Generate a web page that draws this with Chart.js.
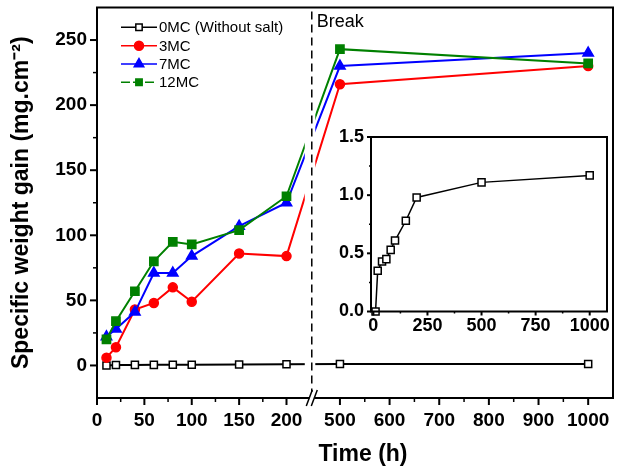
<!DOCTYPE html>
<html>
<head>
<meta charset="utf-8">
<script src="https://cdn.jsdelivr.net/npm/chart.js@4.4.1/dist/chart.umd.min.js"></script>
<style>
  html, body { margin: 0; padding: 0; background: #fff; }
  #wrap { position: relative; width: 625px; height: 471px; }
  #main { position: absolute; left: 0; top: 0; }
  #inset { position: absolute; left: 320px; top: 125px; }
</style>
</head>
<body>
<div id="wrap">
  <canvas id="main" width="625" height="471"></canvas>
  <canvas id="inset" width="300" height="220"></canvas>
</div>
<script>
// exposure time (h) and specific weight gain (mg.cm-2)
var times = [10, 20, 40, 60, 80, 100, 150, 200, 500, 1000];
var mc0 = [0, 0.35, 0.43, 0.45, 0.53, 0.61, 0.78, 0.98, 1.11, 1.17];
var mc3 = [6, 14, 43, 48, 60, 49, 86, 84, 216, 230];
var mc7 = [22, 28, 41, 71, 71, 84, 107, 125, 230, 240];
var mc12 = [20, 34, 57, 80, 95, 93, 104, 130, 243, 232];

var seriesNames = ['0MC (Without salt)', '3MC', '7MC', '12MC'];

var leftTicks = [0, 50, 100, 150, 200];
var leftMinor = [25, 75, 125, 175];
var rightTicks = [500, 600, 700, 800, 900, 1000];
var rightMinor = [550, 650, 750, 850, 950];
var yTicks = [0, 50, 100, 150, 200, 250];
var yMinor = [25, 75, 125, 175, 225];
var insetXTicks = [0, 250, 500, 750, 1000];
var insetXMinor = [125, 375, 625, 875];
var insetYTicks = [0, 0.5, 1.0, 1.5];
var insetYMinor = [0.25, 0.75, 1.25];

// broken time axis: 0-220 h, then 450-1050 h compressed
var LEFT_END = 220, RIGHT_START = 450, RIGHT_END = 1050, GAP = 10.2, K = 0.524;
function toAxis(t) { return t <= LEFT_END ? t : LEFT_END + GAP + (t - RIGHT_START) * K; }
function fromAxis(u) { return u <= LEFT_END ? u : RIGHT_START + (u - LEFT_END - GAP) / K; }

Chart.defaults.font.family = "'Liberation Sans', Arial, sans-serif";
Chart.defaults.color = '#000';

function noPad(s) {
  s.paddingTop = 0; s.paddingBottom = 0; s.paddingLeft = 0; s.paddingRight = 0;
}

function series(label, values, color, style, radius, fill, order) {
  return {
    label: label,
    data: times.map(function(t, i) { return { x: toAxis(t), y: values[i] }; }),
    borderColor: color,
    backgroundColor: fill,
    pointBackgroundColor: fill,
    pointBorderColor: color,
    pointStyle: style,
    pointRadius: radius,
    pointBorderWidth: 1.5,
    borderWidth: 2,
    tension: 0,
    clip: false,
    order: order
  };
}

function marker(ctx, style, x, y, r) {
  ctx.beginPath();
  if (style === 'circle') {
    ctx.arc(x, y, r, 0, Math.PI * 2);
  } else if (style === 'rect') {
    var s = r * Math.SQRT1_2;
    ctx.rect(x - s, y - s, 2 * s, 2 * s);
  } else {
    var a = 0;
    ctx.moveTo(x + Math.sin(a) * r, y - Math.cos(a) * r);
    a += Math.PI * 2 / 3;
    ctx.lineTo(x + Math.sin(a) * r, y - Math.cos(a) * r);
    a += Math.PI * 2 / 3;
    ctx.lineTo(x + Math.sin(a) * r, y - Math.cos(a) * r);
    ctx.closePath();
  }
  ctx.fill();
  ctx.stroke();
}

function tickMarks(ctx, scale, majors, minors, majLen, minLen, horizontal, edge, conv) {
  ctx.strokeStyle = '#000';
  majors.concat(minors).forEach(function(v, i) {
    var major = i < majors.length;
    var p = scale.getPixelForValue(conv ? conv(v) : v);
    var len = major ? majLen : minLen;
    ctx.lineWidth = major ? 2 : 1.5;
    ctx.beginPath();
    if (horizontal) { ctx.moveTo(p, edge); ctx.lineTo(p, edge + len); }
    else { ctx.moveTo(edge, p); ctx.lineTo(edge - len, p); }
    ctx.stroke();
  });
}

var mainDecor = {
  id: 'mainDecor',
  afterDatasetsDraw: function(chart) {
    var ctx = chart.ctx, a = chart.chartArea, x = chart.scales.x;
    var c = x.getPixelForValue(LEFT_END + GAP / 2) + 1.5;
    ctx.save();
    // open the lines where the axis is broken
    ctx.fillStyle = '#fff';
    ctx.fillRect(c - 7, a.top + 2, 10.5, a.bottom - a.top - 4);
    ctx.strokeStyle = '#000';
    ctx.lineWidth = 1.5;
    ctx.setLineDash([8, 5]);
    ctx.beginPath();
    ctx.moveTo(c, a.top + 4);
    ctx.lineTo(c, a.bottom - 6);
    ctx.stroke();
    ctx.setLineDash([]);
    ctx.fillStyle = '#000';
    ctx.font = "18px 'Liberation Sans', Arial, sans-serif";
    ctx.textAlign = 'left';
    ctx.textBaseline = 'alphabetic';
    ctx.fillText('Break', c + 5, 27);
    ctx.restore();
  },
  afterDraw: function(chart) {
    var ctx = chart.ctx, a = chart.chartArea, x = chart.scales.x, y = chart.scales.y;
    var c = x.getPixelForValue(LEFT_END + GAP / 2) + 1.5;
    ctx.save();
    ctx.strokeStyle = '#000';
    ctx.lineWidth = 2;
    ctx.beginPath();
    ctx.moveTo(a.left, a.bottom); ctx.lineTo(a.left, a.top);
    ctx.lineTo(a.right, a.top); ctx.lineTo(a.right, a.bottom);
    ctx.moveTo(a.left - 1, a.bottom); ctx.lineTo(c - 2.5, a.bottom);
    ctx.moveTo(c + 2.5, a.bottom); ctx.lineTo(a.right + 1, a.bottom);
    ctx.stroke();
    ctx.lineWidth = 1.5;
    ctx.beginPath();
    [-2.5, 2.5].forEach(function(d) {
      ctx.moveTo(c + d - 3, a.bottom + 8);
      ctx.lineTo(c + d + 3, a.bottom - 8);
    });
    ctx.stroke();
    tickMarks(ctx, x, leftTicks.concat(rightTicks), leftMinor.concat(rightMinor), 7, 4, true, a.bottom, toAxis);
    tickMarks(ctx, y, yTicks, yMinor, 7, 4, false, a.left);

    // x axis title, set a little right of centre as in the source figure
    ctx.fillStyle = '#000';
    ctx.font = "bold 23px 'Liberation Sans', Arial, sans-serif";
    ctx.textAlign = 'center';
    ctx.textBaseline = 'middle';
    ctx.fillText('Time (h)', 363, 455);

    // legend: line + marker + label
    var ds = chart.data.datasets;
    var rows = [27.3, 45.7, 64, 82.3];
    ctx.font = "15px 'Liberation Sans', Arial, sans-serif";
    ctx.textAlign = 'left';
    for (var i = 0; i < ds.length; i++) {
      var d = ds[i], ry = rows[i];
      ctx.strokeStyle = d.borderColor;
      ctx.lineWidth = 1.5;
      ctx.setLineDash(i === 3 ? [9, 3] : []);
      ctx.beginPath();
      ctx.moveTo(121, ry); ctx.lineTo(157, ry);
      ctx.stroke();
      ctx.setLineDash([]);
      ctx.fillStyle = d.pointBackgroundColor;
      marker(ctx, d.pointStyle, 139, ry, d.pointStyle === 'triangle' ? 5.5 : 4.5);
      ctx.fillStyle = '#000';
      ctx.fillText(d.label, 159, ry + 1);
    }
    ctx.restore();
  }
};

new Chart(document.getElementById('main'), {
  type: 'line',
  data: {
    datasets: [
      series(seriesNames[0], mc0, '#000000', 'rect', 5, '#ffffff', 3),
      series(seriesNames[1], mc3, '#ff0000', 'circle', 4.5, '#ff0000', 2),
      series(seriesNames[2], mc7, '#0000ff', 'triangle', 6, '#0000ff', 1),
      series(seriesNames[3], mc12, '#008000', 'rect', 5.8, '#008000', 0)
    ]
  },
  options: {
    responsive: false,
    animation: false,
    events: [],
    layout: { padding: { top: 6, right: 12, left: 0, bottom: 0 } },
    plugins: { legend: { display: false }, tooltip: { enabled: false } },
    scales: {
      x: {
        type: 'linear',
        min: 0,
        max: toAxis(RIGHT_END),
        afterBuildTicks: function(s) {
          s.ticks = leftTicks.concat(rightTicks).map(function(t) { return { value: toAxis(t) }; });
        },
        afterFit: function(s) { s.height = 73; noPad(s); },
        grid: { display: false, tickLength: 7 },
        border: { display: false },
        ticks: {
          autoSkip: false, maxRotation: 0, padding: 4,
          font: { size: 19, weight: 'bold' },
          callback: function(v) { return String(Math.round(fromAxis(v))); }
        }
      },
      y: {
        min: -25,
        max: 275,
        afterBuildTicks: function(s) {
          s.ticks = yTicks.map(function(t) { return { value: t }; });
        },
        afterFit: function(s) { s.width = 97; noPad(s); },
        grid: { display: false, tickLength: 7 },
        border: { display: false },
        ticks: { padding: 3, font: { size: 19, weight: 'bold' } },
        title: {
          display: true, text: 'Specific weight gain (mg.cm\u207B\u00B2)',
          font: { size: 23, weight: 'bold' },
          padding: { top: 8, bottom: 0 }
        }
      }
    }
  },
  plugins: [mainDecor]
});

var insetDecor = {
  id: 'insetDecor',
  afterDraw: function(chart) {
    var ctx = chart.ctx, a = chart.chartArea;
    ctx.save();
    ctx.strokeStyle = '#000';
    ctx.lineWidth = 2;
    ctx.strokeRect(a.left, a.top, a.right - a.left, a.bottom - a.top);
    tickMarks(ctx, chart.scales.x, insetXTicks, insetXMinor, 4, 2, true, a.bottom);
    tickMarks(ctx, chart.scales.y, insetYTicks, insetYMinor, 4, 2, false, a.left);
    ctx.restore();
  }
};

new Chart(document.getElementById('inset'), {
  type: 'line',
  data: {
    datasets: [{
      label: seriesNames[0],
      data: times.map(function(t, i) { return { x: t, y: mc0[i] }; }),
      borderColor: '#000',
      backgroundColor: '#fff',
      pointBackgroundColor: '#fff',
      pointBorderColor: '#000',
      pointStyle: 'rect',
      pointRadius: 5,
      pointBorderWidth: 1.5,
      borderWidth: 1.5,
      clip: false
    }]
  },
  options: {
    responsive: false,
    animation: false,
    events: [],
    layout: { padding: { top: 12, right: 13, left: 0, bottom: 0 } },
    plugins: { legend: { display: false }, tooltip: { enabled: false } },
    scales: {
      x: {
        type: 'linear', min: -11, max: 1080,
        afterBuildTicks: function(s) {
          s.ticks = insetXTicks.map(function(t) { return { value: t }; });
        },
        afterFit: function(s) { s.height = 33.5; noPad(s); },
        grid: { display: false, tickLength: 4 },
        border: { display: false },
        ticks: {
          autoSkip: false, maxRotation: 0, padding: 0, font: { size: 18, weight: 'bold' },
          callback: function(v) { return String(v); }
        }
      },
      y: {
        min: 0, max: 1.5,
        afterBuildTicks: function(s) {
          s.ticks = insetYTicks.map(function(t) { return { value: t }; });
        },
        afterFit: function(s) { s.width = 51; noPad(s); },
        grid: { display: false, tickLength: 4 },
        border: { display: false },
        ticks: {
          padding: 3, font: { size: 18, weight: 'bold' },
          callback: function(v) { return v.toFixed(1); }
        }
      }
    }
  },
  plugins: [insetDecor]
});
</script>
</body>
</html>
